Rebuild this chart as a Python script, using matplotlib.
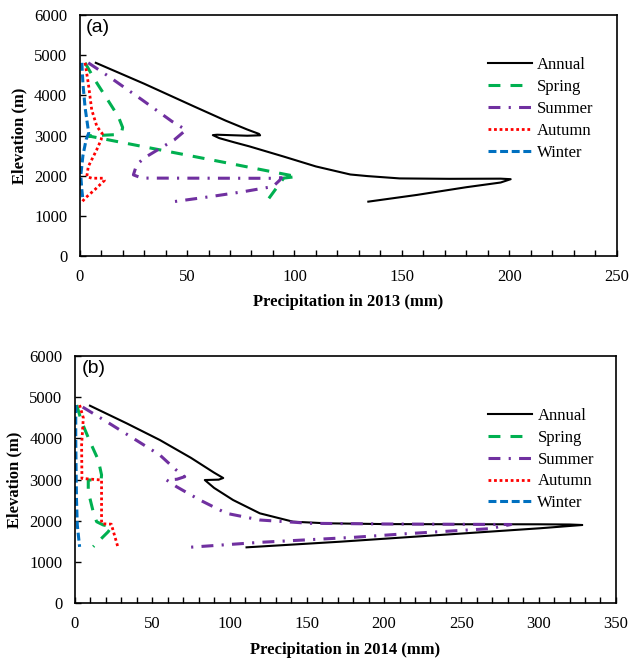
import matplotlib
matplotlib.use("Agg")
import matplotlib.pyplot as plt
from matplotlib.ticker import MultipleLocator

# ---- (a) 2013 precipitation vs elevation ----
a_annual_x = [7.5, 30, 53, 68, 78, 83.5, 84, 78, 64, 62, 65, 72, 79, 95, 110, 126, 134, 149, 172, 196, 200.7, 196, 180, 157, 134.4]
a_annual_y = [4810, 4290, 3730, 3370, 3150, 3040, 3005, 2995, 3020, 3010, 2935, 2830, 2730, 2476, 2230, 2030, 1990, 1932, 1922, 1926, 1913, 1830, 1713, 1521, 1354]
a_spring_x = [2.5, 7, 13, 18, 20, 19.5, 16, 4, 66, 101, 95, 87]
a_spring_y = [4810, 4390, 3890, 3470, 3200, 3080, 3020, 2990, 2345, 1978, 1940, 1355]
a_summer_x = [4, 13, 29, 43, 49.5, 44, 39, 30, 26.5, 25, 29, 65, 89, 94, 93, 90, 76, 61, 44]
a_summer_y = [4810, 4490, 3890, 3350, 3140, 2890, 2730, 2440, 2270, 2020, 1940, 1937, 1935, 1950, 1880, 1730, 1600, 1480, 1355]
a_autumn_x = [2.5, 4, 5.6, 8, 10.5, 10, 7.9, 4, 3.3, 5.6, 11, 11.5, 7, 2.5, 1.2]
a_autumn_y = [4810, 4300, 3640, 3225, 3050, 2900, 2643, 2227, 1978, 1937, 1937, 1880, 1650, 1439, 1354]
a_winter_x = [1, 1.5, 2.5, 4.2, 3, 1.5, 0.5, 1, 1.5]
a_winter_y = [4810, 4300, 3700, 3060, 2900, 2500, 2000, 1650, 1400]

# ---- (b) 2014 precipitation vs elevation ----
b_annual_x = [9.7, 33.4, 54.9, 75, 90, 95.9, 93, 84, 90, 102.3, 119.6, 141.1, 162.7, 200, 250, 300, 320, 328.2, 300.6, 235.9, 171.3, 111]
b_annual_y = [4794, 4367, 3962, 3530, 3170, 3040, 3000, 2991, 2800, 2506, 2183, 1980, 1941, 1922, 1918, 1917, 1912, 1900, 1820, 1657, 1494, 1358]
b_spring_x = [1.1, 4.3, 9.7, 15.1, 17.2, 17, 14, 8.6, 8.6, 11.8, 14, 18.3, 23.7, 21.5, 17.2, 11.8]
b_spring_y = [4811, 4406, 3921, 3476, 3113, 3030, 2995, 2991, 2708, 2222, 1980, 1900, 1860, 1737, 1577, 1373]
b_summer_x = [5, 20.5, 37.7, 54.9, 65, 71, 66, 59.3, 65.7, 80.8, 98, 119.6, 151.9, 200, 282, 268, 215, 180, 120, 70]
b_summer_y = [4760, 4406, 4003, 3598, 3250, 3072, 3010, 2991, 2829, 2506, 2183, 2021, 1941, 1925, 1912, 1810, 1690, 1600, 1480, 1349]
b_autumn_x = [3, 5.4, 4.3, 4.5, 17.2, 17.2, 17.5, 23.5, 28]
b_autumn_y = [4810, 4500, 3840, 3030, 2991, 1990, 1930, 1920, 1334]
b_winter_x = [0.5, 0.5, 0.8, 1, 1.5, 3]
b_winter_y = [4810, 4000, 3000, 2500, 1900, 1370]

labels = ["Annual", "Spring", "Summer", "Autumn", "Winter"]
colors = ["black", "#00B050", "#7030A0", "#FF0000", "#0070C0"]
styles = ["-", (0, (3.9, 3.3)), (0, (3.9, 2.7, 0.7, 2.7)), (0, (1, 1)), (0, (2.6, 1.2))]
widths = [1.5, 2.2, 2.2, 2.0, 2.2]

# Times-like serif everywhere, except the panel tags
plt.rcParams["font.family"] = ["Liberation Serif", "DejaVu Serif"]
plt.rcParams["font.size"] = 12


def draw_panel(ax, series, xmax, xlabel, tag, legend_anchor):
    for (x, y), lab, c, ls, lw in zip(series, labels, colors, styles, widths):
        ax.plot(x, y, color=c, linestyle=ls, linewidth=lw, label=lab)
    ax.set_xlim(0, xmax)
    ax.set_ylim(0, 6000)
    ax.xaxis.set_major_locator(MultipleLocator(50))
    ax.xaxis.set_minor_locator(MultipleLocator(10))
    ax.yaxis.set_major_locator(MultipleLocator(1000))
    ax.tick_params(which="both", direction="in", length=4, width=1, labelsize=12, pad=9)
    for sp in ax.spines.values():
        sp.set_linewidth(1.2)
    ax.set_xlabel(xlabel, fontweight="bold", fontsize=12, labelpad=7)
    ax.set_ylabel("Elevation (m)", fontweight="bold", fontsize=12, labelpad=5)
    ax.text(0.012, 0.985, tag, transform=ax.transAxes, ha="left", va="top",
            fontsize=14, fontfamily="Liberation Sans")
    ax.legend(loc="upper left", bbox_to_anchor=legend_anchor, frameon=False,
              borderaxespad=0, borderpad=0, handlelength=2.65, handletextpad=0.3,
              labelspacing=0.35, fontsize=12)


fig = plt.figure(figsize=(6.3, 6.59), dpi=100)
ax_a = fig.add_axes([0.1265, 0.6115, 0.8522, 0.3657])
ax_b = fig.add_axes([0.119, 0.0845, 0.8587, 0.3753])

draw_panel(ax_a,
           [(a_annual_x, a_annual_y), (a_spring_x, a_spring_y), (a_summer_x, a_summer_y),
            (a_autumn_x, a_autumn_y), (a_winter_x, a_winter_y)],
           250, "Precipitation in 2013 (mm)", "(a)", (0.76, 0.825))
draw_panel(ax_b,
           [(b_annual_x, b_annual_y), (b_spring_x, b_spring_y), (b_summer_x, b_summer_y),
            (b_autumn_x, b_autumn_y), (b_winter_x, b_winter_y)],
           350, "Precipitation in 2014 (mm)", "(b)", (0.764, 0.79))

fig.savefig("out.png", dpi=100)
